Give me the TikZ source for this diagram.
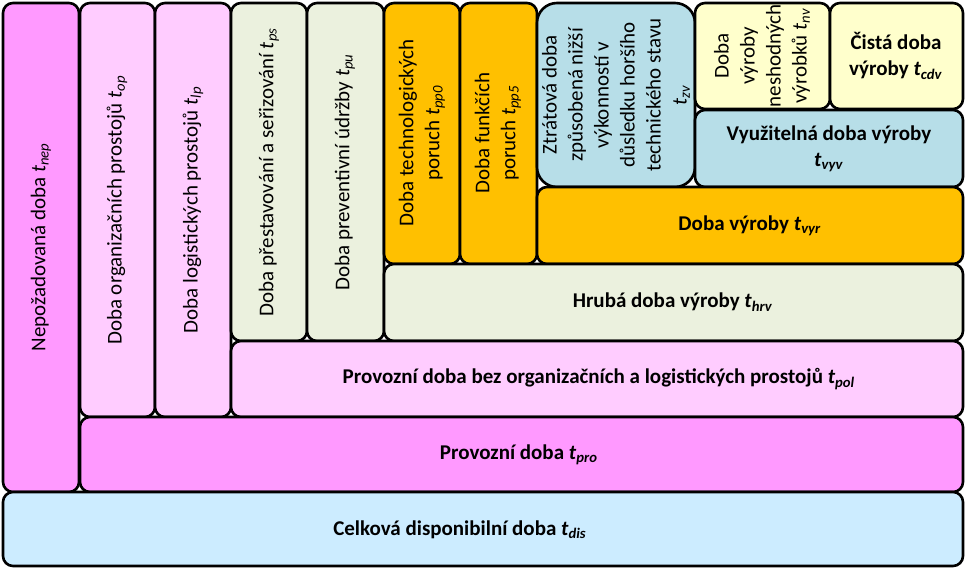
\documentclass[tikz,border=0pt]{standalone}
\usepackage{fontspec}
\setmainfont{Carlito}
\usepackage{tikz}

\definecolor{fialova}{HTML}{FF99FF}
\definecolor{ruzova}{HTML}{FFCCFF}
\definecolor{zelena}{HTML}{EBF1DE}
\definecolor{oranzova}{HTML}{FFC000}
\definecolor{modra}{HTML}{B7DEE8}
\definecolor{zluta}{HTML}{FFFFCC}
\definecolor{blankytna}{HTML}{CCECFF}

\newcommand{\tdoba}[1]{\textit{t}\textsubscript{\textit{#1}}}

\begin{document}
\begin{tikzpicture}[x=0.5pt, y=-0.5pt,
    blok/.style={draw, line width=1.3pt, rounded corners=5pt},
    popis/.style={align=center, inner sep=0pt, font=\fontsize{10.5}{13}\selectfont},
    svisle/.style={popis, rotate=90},
    tucne/.style={popis, font=\fontsize{10.5}{13}\selectfont\bfseries}]

  \useasboundingbox (0,0) rectangle (966,573);

  % Vertical columns
  \draw[blok, fill=fialova] (3,3) rectangle (79,492);
  \draw[blok, fill=ruzova] (80,3) rectangle (155,417);
  \draw[blok, fill=ruzova] (155,3) rectangle (231,417);
  \draw[blok, fill=zelena] (231,3) rectangle (307,341);
  \draw[blok, fill=zelena] (307,3) rectangle (384,341);
  \draw[blok, fill=oranzova] (384,3) rectangle (460,264);
  \draw[blok, fill=oranzova] (460,3) rectangle (537,264);
  \draw[blok, fill=modra, rounded corners=10pt] (537,3) rectangle (695,187);
  \draw[blok, fill=zluta] (695,3) rectangle (830,109);
  \draw[blok, fill=zluta] (830,3) rectangle (963,109);

  % Horizontal rows
  \draw[blok, fill=modra] (695,110) rectangle (963,187);
  \draw[blok, fill=oranzova] (537,187) rectangle (963,264);
  \draw[blok, fill=zelena] (384,264) rectangle (963,341);
  \draw[blok, fill=ruzova] (231,341) rectangle (963,417);
  \draw[blok, fill=fialova] (80,417) rectangle (963,492);
  \draw[blok, fill=blankytna] (3,492) rectangle (963,566);

  % Labels of the columns
  \node[svisle] (nep) at (41,247) {Nepožadovaná doba \tdoba{nep}};
  \node[svisle] (op) at (117,210) {Doba organizačních prostojů \tdoba{op}};
  \node[svisle] (lp) at (193,210) {Doba logistických prostojů \tdoba{lp}};
  \node[svisle] (ps) at (269,172) {Doba přestavování a seřizování \tdoba{ps}};
  \node[svisle] (pu) at (345,172) {Doba preventivní údržby \tdoba{pu}};
  \node[svisle] (pp0) at (422,133) {Doba technologických\\poruch \tdoba{pp0}};
  \node[svisle] (pp5) at (498,133) {Doba funkčích\\poruch \tdoba{pp5}};
  \node[svisle] (zv) at (616,95) {Ztrátová doba\\způsobená nižší\\výkonností v\\důsledku horšího\\technického stavu\\\tdoba{zv}};
  \node[svisle] (nv) at (762,56) {Doba\\výroby\\neshodných\\výrobků \tdoba{nv}};
  \node[tucne] (cdv) at (896,56) {Čistá doba\\výroby \tdoba{cdv}};

  % Labels of the rows
  \node[tucne] (vyv) at (829,149) {Využitelná doba výroby\\\tdoba{vyv}};
  \node[tucne] (vyr) at (750,226) {Doba výroby \tdoba{vyr}};
  \node[tucne] (hrv) at (673,302) {Hrubá doba výroby \tdoba{hrv}};
  \node[tucne] (pol) at (599,379) {Provozní doba bez organizačních a logistických prostojů \tdoba{pol}};
  \node[tucne] (pro) at (519,455) {Provozní doba \tdoba{pro}};
  \node[tucne] (dis) at (460,530) {Celková disponibilní doba \tdoba{dis}};

\end{tikzpicture}
\end{document}
